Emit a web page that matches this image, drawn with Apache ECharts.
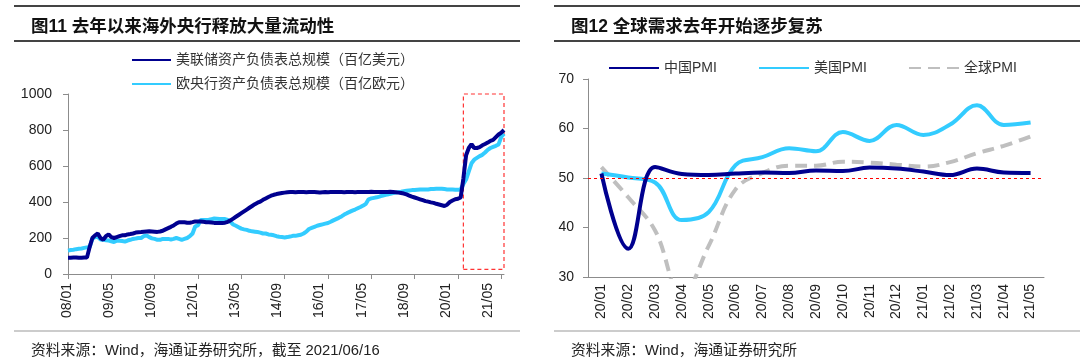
<!DOCTYPE html>
<html><head><meta charset="utf-8">
<script src="https://cdn.jsdelivr.net/npm/echarts@6/dist/echarts.min.js"></script>
<style>html,body{margin:0;padding:0;background:#fff}#c{width:1080px;height:362px}</style>
</head><body><div id="c"></div>
<script>
// ---------- Left chart data (monthly, 2008-01 .. 2021-06) ----------
const fedBalance = [
  90,90,91,92,90,90,91,91,150,200,215,225,
  200,190,210,220,205,200,205,210,215,215,220,222,
  225,230,232,233,235,236,237,236,235,234,236,240,
  248,255,262,270,280,288,288,287,285,285,288,292,
  292,292,290,288,287,286,284,283,283,284,285,290,
  298,308,318,328,338,348,358,368,378,388,396,402,
  412,420,428,435,440,444,447,450,452,454,455,456,
  454,455,456,455,454,455,456,455,454,453,454,455,
  454,455,456,455,456,455,454,455,456,455,454,455,
  455,456,455,456,457,456,455,456,456,455,456,457,
  456,454,452,450,447,442,436,430,425,420,415,410,
  405,402,398,395,390,386,382,378,385,400,408,415,
  418,425,530,660,700,722,700,700,705,715,722,730,
  740,745,760,775,785,800
];
const ecbBalance = [
  130,133,135,138,140,142,145,148,150,195,205,205,
  192,190,188,186,182,178,185,185,183,180,186,190,
  195,197,200,200,210,215,205,198,195,190,190,195,
  195,195,192,195,200,195,190,195,200,210,225,265,
  270,300,300,300,302,305,308,307,306,305,305,300,
  290,275,268,260,252,248,245,240,237,235,233,230,
  225,225,220,218,215,210,207,205,203,205,208,212,
  212,215,218,225,235,250,256,262,268,272,276,280,
  283,290,298,305,312,320,330,338,345,352,358,365,
  372,380,390,415,420,423,426,430,435,438,442,445,
  450,452,455,457,460,462,464,466,467,468,469,470,
  470,470,472,472,473,474,474,472,470,470,469,468,
  468,470,500,525,570,615,635,645,655,662,675,690,
  700,706,712,720,762,780
];
const leftTickLabels = ['08/01','09/05','10/09','12/01','13/05','14/09','16/01','17/05','18/09','20/01','21/05'];
const leftNames = ['美联储资产负债表总规模（百亿美元）','欧央行资产负债表总规模（百亿欧元）'];
const highlightFrom = '20/03', highlightTo = '21/06';

// ---------- Right chart data ----------
const pmiMonths = ['20/01','20/02','20/03','20/04','20/05','20/06','20/07','20/08','20/09','20/10','20/11','20/12','21/01','21/02','21/03','21/04','21/05'];
const chinaPMI = [50.9,35.7,52.2,50.8,50.6,50.9,51.1,51.0,51.5,51.4,52.1,51.9,51.3,50.6,51.9,51.1,51.0];
const usPMI    = [50.9,50.1,49.1,41.5,43.1,52.6,54.2,56.0,55.4,59.3,57.5,60.7,58.7,60.8,64.7,60.7,61.2];
const globalPMI= [52.2,46.1,39.4,26.2,36.3,47.7,51.0,52.5,52.5,53.3,53.1,52.7,52.3,53.2,55.0,56.5,58.4];
const rightNames = ['中国PMI','美国PMI','全球PMI'];

// ---------- build categories ----------
const leftMonths = [];
for (let y = 2008; y <= 2021; y++) {
  for (let m = 1; m <= 12; m++) {
    if (leftMonths.length >= fedBalance.length) break;
    leftMonths.push(String(y).slice(2) + '/' + String(m).padStart(2, '0'));
  }
}

const NAVY = '#00008F', SKY = '#33CCFF', GREY = '#BFBFBF';
const LAT = 'Liberation Sans, Arial, Noto Sans CJK SC, sans-serif';
const CJK = 'Liberation Sans, Noto Sans CJK SC, sans-serif';
const axisGrey = '#8C8C8C';
const txt = '#222';
const legendText = {fontFamily: CJK, fontSize: 14, color: '#333'};
const noSymbol = {opacity: 0};

const chart = echarts.init(document.getElementById('c'), null, {renderer: 'canvas'});

const option = {
  animation: false,
  backgroundColor: '#fff',
  title: [
    {text: '图11 去年以来海外央行释放大量流动性', left: 26, top: 13,
     textStyle: {fontFamily: CJK, fontSize: 17.5, fontWeight: 'bold', color: '#111'}},
    {text: '图12 全球需求去年开始逐步复苏', left: 566, top: 13,
     textStyle: {fontFamily: CJK, fontSize: 17.5, fontWeight: 'bold', color: '#111'}},
    {text: '资料来源：Wind，海通证券研究所，截至 2021/06/16', left: 26, top: 339,
     textStyle: {fontFamily: CJK, fontSize: 14.8, fontWeight: 'normal', color: '#222'}},
    {text: '资料来源：Wind，海通证券研究所', left: 566, top: 339,
     textStyle: {fontFamily: CJK, fontSize: 14.8, fontWeight: 'normal', color: '#222'}}
  ],
  graphic: [
    {type: 'line', shape: {x1: 14, y1: 6, x2: 520, y2: 6}, style: {stroke: '#444', lineWidth: 2}},
    {type: 'line', shape: {x1: 14, y1: 41, x2: 520, y2: 41}, style: {stroke: '#444', lineWidth: 2}},
    {type: 'line', shape: {x1: 14, y1: 331, x2: 520, y2: 331}, style: {stroke: '#999', lineWidth: 1}},
    {type: 'line', shape: {x1: 554, y1: 6, x2: 1080, y2: 6}, style: {stroke: '#444', lineWidth: 2}},
    {type: 'line', shape: {x1: 554, y1: 41, x2: 1080, y2: 41}, style: {stroke: '#444', lineWidth: 2}},
    {type: 'line', shape: {x1: 554, y1: 331, x2: 1080, y2: 331}, style: {stroke: '#999', lineWidth: 1}}
  ],
  legend: [
    {data: leftNames, orient: 'vertical', left: 126, top: 48, itemWidth: 39, itemHeight: 14, itemGap: 10,
     itemStyle: noSymbol, textStyle: legendText},
    {data: [rightNames[0]], left: 603, top: 56, itemWidth: 50, itemHeight: 14,
     itemStyle: noSymbol, textStyle: legendText},
    {data: [rightNames[1]], left: 753, top: 56, itemWidth: 50, itemHeight: 14,
     itemStyle: noSymbol, textStyle: legendText},
    {data: [rightNames[2]], left: 903, top: 56, itemWidth: 50, itemHeight: 14,
     itemStyle: noSymbol, textStyle: legendText}
  ],
  grid: [
    {left: 68, top: 94, width: 436, height: 180},
    {left: 67, top: 94, width: 421, height: 180},
    {left: 588, top: 79, width: 456, height: 198}
  ],
  xAxis: [
    {gridIndex: 0, type: 'category', data: leftMonths, boundaryGap: false,
     axisLine: {lineStyle: {color: axisGrey, width: 1}},
     axisTick: {interval: 15, length: 5, lineStyle: {color: axisGrey}},
     axisLabel: {show: false}, splitLine: {show: false}},
    {gridIndex: 1, type: 'category', data: leftTickLabels, boundaryGap: false,
     axisLine: {show: false}, axisTick: {show: false},
     axisLabel: {interval: 0, rotate: 90, margin: 9, fontFamily: LAT, fontSize: 14, color: txt}},
    {gridIndex: 2, type: 'category', data: pmiMonths, boundaryGap: true,
     axisLine: {lineStyle: {color: axisGrey, width: 1}},
     axisTick: {length: 5, lineStyle: {color: axisGrey}},
     axisLabel: {interval: 0, rotate: 90, margin: 7, fontFamily: LAT, fontSize: 14, color: txt}}
  ],
  yAxis: [
    {gridIndex: 0, type: 'value', min: 0, max: 1000, interval: 200,
     axisLine: {show: true, lineStyle: {color: axisGrey, width: 1}},
     axisTick: {show: true, length: 5, lineStyle: {color: axisGrey}},
     axisLabel: {margin: 16, fontFamily: LAT, fontSize: 14, color: txt, formatter: v => String(v)},
     splitLine: {show: false}},
    {gridIndex: 1, type: 'value', show: false, min: 0, max: 1000},
    {gridIndex: 2, type: 'value', min: 30, max: 70, interval: 10,
     axisLine: {show: true, lineStyle: {color: axisGrey, width: 1}},
     axisTick: {show: true, length: 5, lineStyle: {color: axisGrey}},
     axisLabel: {margin: 14, fontFamily: LAT, fontSize: 14, color: txt},
     splitLine: {show: false}}
  ],
  series: [
    {name: leftNames[1], type: 'line', xAxisIndex: 0, yAxisIndex: 0, data: ecbBalance,
     symbol: 'none', clip: false, color: SKY, lineStyle: {color: SKY, width: 4}},
    {name: leftNames[0], type: 'line', xAxisIndex: 0, yAxisIndex: 0, data: fedBalance,
     symbol: 'none', clip: false, color: NAVY, lineStyle: {color: NAVY, width: 4},
     markArea: {silent: true,
       itemStyle: {color: 'rgba(0,0,0,0)', borderColor: '#FF3333', borderWidth: 1.2, borderType: [4, 3]},
       data: [[{xAxis: highlightFrom, yAxis: 26}, {xAxis: highlightTo, yAxis: 1008}]]}},
    {name: rightNames[2], type: 'line', xAxisIndex: 2, yAxisIndex: 2, data: globalPMI,
     symbol: 'none', smooth: 0.4, color: GREY, lineStyle: {color: GREY, width: 4, type: [12, 7]},
     markLine: {silent: true, symbol: 'none', label: {show: false},
       lineStyle: {color: '#FF0000', width: 1, type: [3, 3]}, data: [{yAxis: 50}]}},
    {name: rightNames[1], type: 'line', xAxisIndex: 2, yAxisIndex: 2, data: usPMI,
     symbol: 'none', smooth: 0.4, color: SKY, lineStyle: {color: SKY, width: 4}},
    {name: rightNames[0], type: 'line', xAxisIndex: 2, yAxisIndex: 2, data: chinaPMI,
     symbol: 'none', smooth: 0.4, color: NAVY, lineStyle: {color: NAVY, width: 4}}
  ]
};
chart.setOption(option);
</script>
</body></html>
